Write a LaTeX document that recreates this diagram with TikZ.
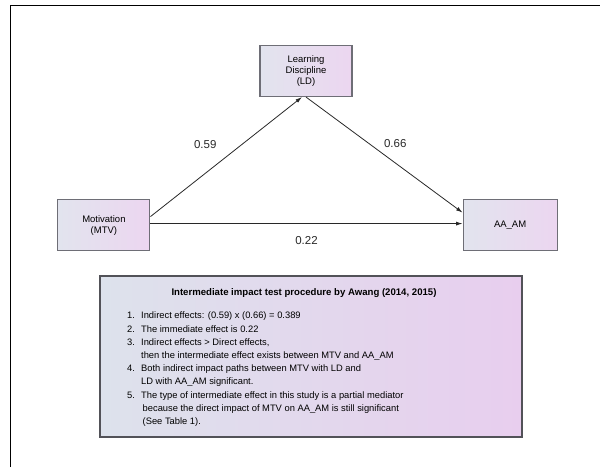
\documentclass[tikz,border=0pt]{standalone}
\usepackage{fontspec}
\setmainfont{Liberation Sans}
\usepackage{xcolor}
\usetikzlibrary{arrows.meta,positioning}
\definecolor{boxleft}{RGB}{226,228,238}
\definecolor{boxright}{RGB}{236,214,240}
\definecolor{procleft}{RGB}{221,226,236}
\definecolor{procright}{RGB}{232,206,238}
\definecolor{boxline}{RGB}{110,110,118}
\definecolor{pathline}{RGB}{40,40,40}

\begin{document}
\begin{tikzpicture}[x=1pt,y=-1pt,>={Latex[length=6.5pt,width=4pt]}]
  \tikzstyle{var}=[draw=boxline,line width=1.1pt,left color=boxleft,right color=boxright,align=center,minimum width=92pt,minimum height=51pt,inner sep=2pt,font=\fontsize{9.5}{11}\selectfont]
  \tikzstyle{procbox}=[draw=boxline!75!black,line width=1.5pt,left color=procleft,right color=procright,minimum width=422pt,minimum height=161pt]
  \tikzstyle{coef}=[font=\fontsize{11.5}{13}\selectfont,text=pathline]
  \tikzstyle{path}=[->,draw=pathline,line width=0.8pt]
  \useasboundingbox (0,0) rectangle (600,467);
  \draw[line width=1pt] (10,467) -- (10,5) -- (600,5);
  % mediation model
  \node[var] (ld) at (306,71) {Learning\\Discipline\\(LD)};
  \node[var,below left=102pt and 109pt of ld] (mtv) {Motivation\\(MTV)};
  \node[var,below right=102pt and 110pt of ld,minimum width=94pt] (aa) {AA\_AM};
  \draw[path] ([yshift=8.5pt]mtv.east) -- ([xshift=-4pt]ld.south) node[coef,midway,xshift=-21pt,yshift=12.5pt] {0.59};
  \draw[path] (ld.south) -- ([yshift=12.5pt]aa.west) node[coef,midway,xshift=11pt,yshift=11pt] {0.66};
  \draw[path] ([yshift=1.5pt]mtv.east) -- ([yshift=1.5pt]aa.west) node[coef,midway,yshift=-17pt] {0.22};
  % test procedure
  \node[procbox] (proc) at (311,356.5) {};
  \node[font=\bfseries\fontsize{9.6}{11}\selectfont] (proctitle) at (304,293) {Intermediate impact test procedure by Awang (2014, 2015)};
  \node[anchor=north west,align=left,inner sep=0pt,font=\fontsize{9.35}{13.2}\selectfont] (proclist) at (127,312) {%
    \makebox[14pt][l]{1.}Indirect effects: (0.59) x (0.66) = 0.389\\
    \makebox[14pt][l]{2.}The immediate effect is 0.22\\
    \makebox[14pt][l]{3.}Indirect effects > Direct effects,\\
    \hspace*{14pt}then the intermediate effect exists between MTV and AA\_AM\\
    \makebox[14pt][l]{4.}Both indirect impact paths between MTV with LD and\\
    \hspace*{14pt}LD with AA\_AM significant.\\
    \makebox[14pt][l]{5.}The type of intermediate effect in this study is a partial mediator\\
    \hspace*{15.5pt}because the direct impact of MTV on AA\_AM is still significant\\
    \hspace*{15.5pt}(See Table 1).};
\end{tikzpicture}
\end{document}
